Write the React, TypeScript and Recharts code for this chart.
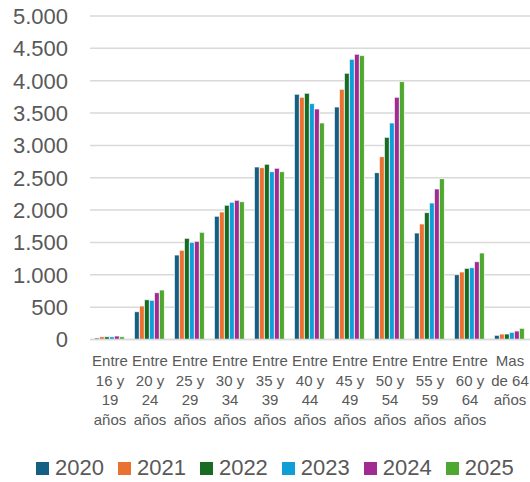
import React from "react";
import { BarChart, Bar, XAxis, YAxis, CartesianGrid, Legend } from "recharts";

const categories = [
  ["Entre", "16 y", "19", "años"],
  ["Entre", "20 y", "24", "años"],
  ["Entre", "25 y", "29", "años"],
  ["Entre", "30 y", "34", "años"],
  ["Entre", "35 y", "39", "años"],
  ["Entre", "40 y", "44", "años"],
  ["Entre", "45 y", "49", "años"],
  ["Entre", "50 y", "54", "años"],
  ["Entre", "55 y", "59", "años"],
  ["Entre", "60 y", "64", "años"],
  ["Mas", "de 64", "años"],
];

const years = ["2020", "2021", "2022", "2023", "2024", "2025"];
const COLORS = ["#156082", "#E97132", "#196B24", "#0F9ED5", "#A02B93", "#4EA72E"];

const v2020 = [23, 430, 1306, 1905, 2667, 3791, 3594, 2579, 1646, 1002, 65];
const v2021 = [43, 518, 1379, 1971, 2656, 3744, 3868, 2826, 1786, 1044, 85];
const v2022 = [43, 615, 1564, 2075, 2709, 3806, 4115, 3125, 1961, 1100, 85];
const v2023 = [43, 606, 1502, 2121, 2594, 3646, 4331, 3347, 2110, 1110, 111];
const v2024 = [54, 724, 1518, 2152, 2647, 3564, 4409, 3744, 2327, 1203, 131];
const v2025 = [43, 765, 1657, 2130, 2594, 3347, 4388, 3986, 2486, 1337, 173];
const series = [v2020, v2021, v2022, v2023, v2024, v2025];

const yTicks = [0, 500, 1000, 1500, 2000, 2500, 3000, 3500, 4000, 4500, 5000];

const data = categories.map((lines, i) => {
  const row: Record<string, string | number> = { name: lines.join("\n") };
  years.forEach((y, s) => (row[y] = series[s][i]));
  return row;
});

const FONT = "'Liberation Sans', Arial, sans-serif";
const TEXT = "#595959";

function fmt(n: number) {
  return String(n).replace(/\B(?=(\d{3})+(?!\d))/g, ".");
}

function CategoryTick({ x, y, payload }: any) {
  const lines = String(payload.value).split("\n");
  return (
    <text x={x} y={y} textAnchor="middle" fill={TEXT} fontSize={15} fontFamily={FONT}>
      {lines.map((l, i) => (
        <tspan key={i} x={x} dy={i === 0 ? 26.5 : 19.5}>
          {l}
        </tspan>
      ))}
    </text>
  );
}

function YearLegend() {
  return (
    <div style={{ display: "flex", alignItems: "center", height: 24, fontFamily: FONT, fontSize: 22, color: TEXT }}>
      {years.map((y, i) => (
        <div key={y} style={{ display: "flex", alignItems: "center", marginRight: 14 }}>
          <span style={{ width: 13, height: 13, background: COLORS[i], marginRight: 6 }} />
          <span style={{ lineHeight: "24px" }}>{y}</span>
        </div>
      ))}
    </div>
  );
}

export default function App() {
  return (
    <div style={{ position: "absolute", left: 0, top: 0, width: 530, height: 482, background: "#fff" }}>
      <BarChart
        width={530}
        height={482}
        data={data}
        margin={{ top: 16, right: 0, left: 0, bottom: 0 }}
        barCategoryGap="11%"
        barGap={0}
      >
        <CartesianGrid vertical={false} stroke="#d9d9d9" strokeWidth={1.5} />
        <XAxis
          dataKey="name"
          interval={0}
          height={118.5}
          tickSize={0}
          tickMargin={0}
          axisLine={{ stroke: "#d9d9d9", strokeWidth: 1.5 }}
          tickLine={false}
          tick={<CategoryTick />}
        />
        <YAxis
          width={90}
          domain={[0, 5000]}
          ticks={yTicks}
          tickFormatter={fmt}
          tickSize={0}
          tickMargin={22}
          axisLine={false}
          tickLine={false}
          tick={{ fill: TEXT, fontSize: 22, fontFamily: FONT }}
        />
        <Legend
          verticalAlign="bottom"
          align="left"
          wrapperStyle={{ left: 36, bottom: 2, width: "auto", height: 24 }}
          content={<YearLegend />}
        />
        {years.map((y, i) => (
          <Bar key={y} dataKey={y} fill={COLORS[i]} stroke="#ffffff" strokeWidth={0.75} isAnimationActive={false} />
        ))}
      </BarChart>
    </div>
  );
}
